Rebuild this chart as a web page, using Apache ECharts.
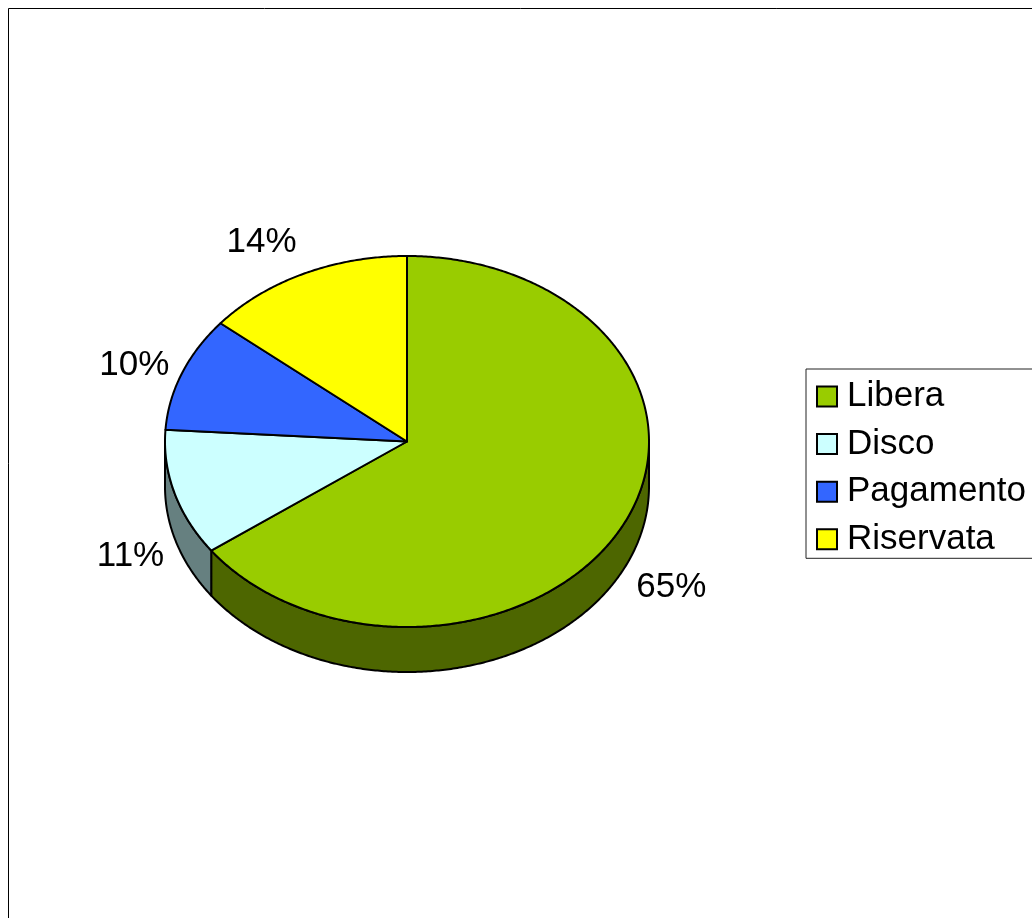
<!DOCTYPE html>
<html>
<head>
<meta charset="utf-8">
<title>Ripartizione della sosta</title>
<style>html,body{margin:0;padding:0;background:#fff;overflow:hidden}#chart{width:1032px;height:918px}</style>
<script src="https://cdn.jsdelivr.net/npm/echarts@6/dist/echarts.min.js"></script>
</head>
<body>
<div id="chart"></div>
<script>
const categories = ['Libera', 'Disco', 'Pagamento', 'Riservata'];
const percentages = [65, 11, 10, 14];
const topColors = ['#99cc00', '#ccffff', '#3366ff', '#ffff00'];
const wallColors = ['#4d6600', '#668080', '#1a3380', '#808000'];

// Pie disc geometry: tilted ellipse with a visible rim below it.
const CX = 407, CY = 441.5, RX = 242, RY = 185.5, DEPTH = 45;
// Label radii around the disc, with per-slice adjustments in pixels.
const LABEL_RX = 290, LABEL_RY = 218;
const labelNudge = { Libera: [6, 2], Disco: [2, 9], Pagamento: [-3, 4], Riservata: [-22, -2] };

const FONT = '"Liberation Sans", Arial, sans-serif';
const total = percentages.reduce((a, b) => a + b, 0);

// Angles are measured clockwise from twelve o'clock, in degrees.
function onEllipse(deg, dy) {
  const t = deg * Math.PI / 180;
  return [CX + RX * Math.sin(t), CY - RY * Math.cos(t) + (dy || 0)];
}
function arc(from, to, dy) {
  const pts = [];
  const n = Math.max(2, Math.ceil(Math.abs(to - from) * 2));
  for (let i = 0; i <= n; i++) pts.push(onEllipse(from + (to - from) * i / n, dy));
  return pts;
}

function renderSlice(index) {
  return function (params, api) {
    const value = api.value(0);
    const before = percentages.slice(0, index).reduce((a, b) => a + b, 0);
    const start = before / total * 360;
    const end = start + value / total * 360;
    const children = [];
    const stroke = { stroke: '#000', lineWidth: 2, lineJoin: 'round' };

    // Only the front half of the disc shows its rim (90 to 270 degrees).
    const wallFrom = Math.max(start, 90), wallTo = Math.min(end, 270);
    if (wallTo > wallFrom) {
      children.push({
        type: 'polygon',
        shape: { points: arc(wallFrom, wallTo, 0).concat(arc(wallTo, wallFrom, DEPTH)) },
        style: Object.assign({ fill: wallColors[index] }, stroke)
      });
    }
    children.push({
      type: 'polygon',
      shape: { points: [[CX, CY]].concat(arc(start, end, 0)) },
      style: Object.assign({ fill: topColors[index] }, stroke)
    });

    const mid = (start + end) / 2 * Math.PI / 180;
    const c = Math.cos(mid);
    const nudge = labelNudge[categories[index]];
    children.push({
      type: 'text',
      z2: 10,
      style: {
        text: value + '%',
        x: CX + LABEL_RX * Math.sin(mid) + nudge[0],
        y: CY - LABEL_RY * c + (c < 0 ? DEPTH : 0) + nudge[1],
        fill: '#000',
        font: '35px ' + FONT,
        align: 'center',
        verticalAlign: 'middle'
      }
    });
    return { type: 'group', children };
  };
}

const chart = echarts.init(document.getElementById('chart'), null, { renderer: 'canvas' });
chart.setOption({
  animation: false,
  backgroundColor: '#fff',
  legend: {
    left: 806,
    top: 369,
    orient: 'vertical',
    data: categories,
    icon: 'rect',
    itemWidth: 20,
    itemHeight: 20,
    itemGap: 12.6,
    padding: [10, 40, 1.5, 10],
    backgroundColor: '#fff',
    borderColor: '#222',
    borderWidth: 1,
    borderRadius: 0,
    itemStyle: { borderColor: '#000', borderWidth: 2 },
    textStyle: { color: '#000', fontFamily: FONT, fontSize: 35, padding: [0, 0, 0, 5] },
    selectedMode: false
  },
  graphic: [{
    type: 'polyline',
    silent: true,
    shape: { points: [[8.5, 930], [8.5, 8.5], [1040, 8.5]] },
    style: { stroke: '#000', lineWidth: 1, fill: null }
  }],
  series: categories.map((name, i) => ({
    type: 'custom',
    name,
    coordinateSystem: 'none',
    silent: true,
    itemStyle: { color: topColors[i] },
    renderItem: renderSlice(i),
    data: [[percentages[i]]]
  }))
});
</script>
</body>
</html>
